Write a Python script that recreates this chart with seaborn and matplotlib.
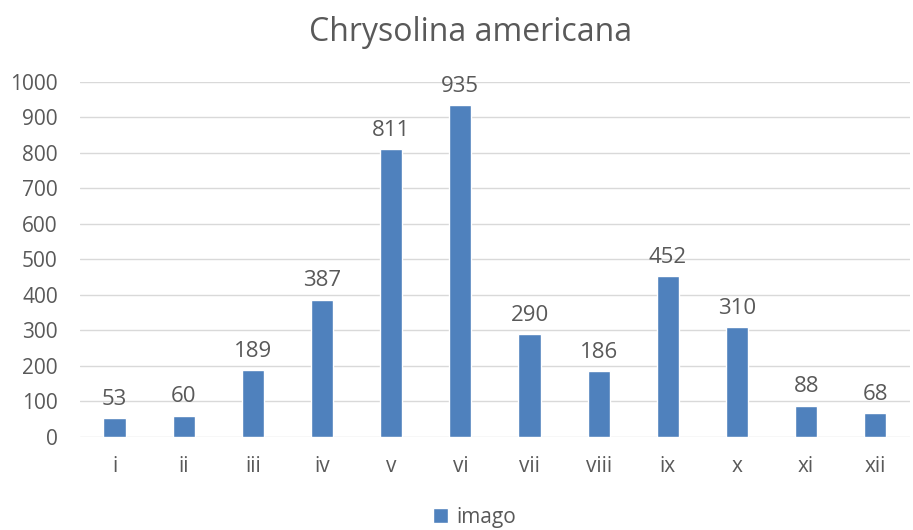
import numpy as np
import pandas as pd
import seaborn as sns
import matplotlib.pyplot as plt
from matplotlib.patches import Patch

# data
months = ['i', 'ii', 'iii', 'iv', 'v', 'vi', 'vii', 'viii', 'ix', 'x', 'xi', 'xii']
imago = [53, 60, 189, 387, 811, 935, 290, 186, 452, 310, 88, 68]

df = pd.DataFrame({'month': months, 'imago': imago})

sns.set_style('white')
plt.rcParams['font.family'] = ['Open Sans', 'DejaVu Sans']
grey = '#595959'
blue = '#4F81BD'

fig = plt.figure(figsize=(9.13, 5.30), dpi=100)
ax = fig.add_axes([0.0876, 0.1755, 0.909, 0.670])

sns.barplot(data=df, x='month', y='imago', color=blue, width=0.32,
            saturation=1, ax=ax, zorder=3)

ax.bar_label(ax.containers[0], fmt='%d', padding=6, fontsize=16, color=grey)

ax.set_ylim(0, 1000)
ax.set_yticks(np.arange(0, 1001, 100))
ax.set_xlim(-0.5, len(months) - 0.5)
ax.grid(axis='y', color='#D9D9D9', linewidth=1, zorder=0)
for s in ax.spines.values():
    s.set_visible(False)
ax.tick_params(axis='both', length=0, labelsize=15, colors=grey)
ax.tick_params(axis='x', pad=14)
ax.tick_params(axis='y', pad=16)
ax.set_xlabel('')
ax.set_ylabel('')

fig.suptitle('Chrysolina americana', x=0.515, y=0.97, fontsize=23, color=grey)

handles = [Patch(facecolor=blue, label='imago')]
fig.legend(handles=handles, loc='center', bbox_to_anchor=(0.52, 0.024),
           frameon=False, fontsize=15, labelcolor=grey, handlelength=0.7,
           handleheight=0.7, handletextpad=0.4)

fig.savefig('out.png', dpi=100)
